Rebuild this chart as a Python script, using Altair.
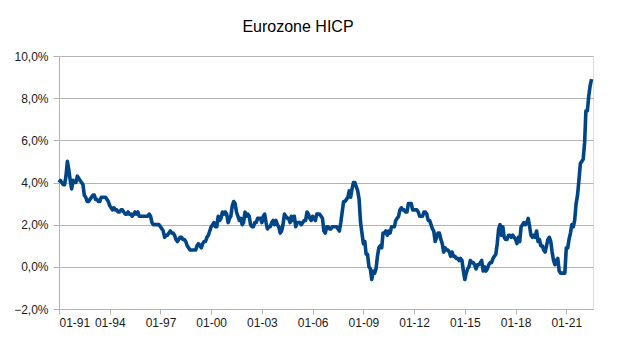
import altair as alt
import pandas as pd

start_year = 1991
y1991 = [4.0, 4.1, 4.0, 3.9, 3.9, 4.3, 5.0, 4.6, 4.1, 3.7, 4.1, 4.0]
y1992 = [4.0, 4.3, 4.2, 4.1, 4.0, 3.9, 3.4, 3.3, 3.1, 3.1, 3.2, 3.3]
y1993 = [3.4, 3.4, 3.2, 3.2, 3.1, 3.1, 3.3, 3.3, 3.3, 3.3, 3.2, 3.1]
y1994 = [2.9, 2.8, 2.7, 2.8, 2.7, 2.7, 2.6, 2.6, 2.7, 2.7, 2.6, 2.5]
y1995 = [2.5, 2.6, 2.5, 2.5, 2.4, 2.5, 2.6, 2.5, 2.6, 2.4, 2.4, 2.4]
y1996 = [2.4, 2.4, 2.4, 2.4, 2.5, 2.4, 2.1, 2.0, 2.0, 2.0, 2.0, 2.0]
y1997 = [1.9, 1.8, 1.7, 1.4, 1.5, 1.5, 1.6, 1.7, 1.6, 1.6, 1.5, 1.3]
y1998 = [1.2, 1.3, 1.4, 1.4, 1.3, 1.3, 1.2, 1.0, 0.9, 0.8, 0.8, 0.8]
y1999 = [0.8, 0.8, 1.0, 1.1, 1.0, 0.9, 1.1, 1.2, 1.2, 1.4, 1.5, 1.7]
y2000 = [1.9, 2.0, 2.1, 1.9, 1.9, 2.4, 2.2, 2.3, 2.6, 2.5, 2.6, 2.5]
y2001 = [2.1, 2.3, 2.4, 2.9, 3.1, 3.0, 2.6, 2.4, 2.2, 2.3, 2.0, 2.1]
y2002 = [2.6, 2.4, 2.5, 2.4, 2.0, 1.9, 1.9, 2.1, 2.1, 2.3, 2.3, 2.3]
y2003 = [2.1, 2.4, 2.5, 2.1, 1.8, 1.9, 1.9, 2.1, 2.2, 2.0, 2.2, 2.0]
y2004 = [1.9, 1.6, 1.7, 2.0, 2.5, 2.4, 2.3, 2.3, 2.1, 2.4, 2.2, 2.4]
y2005 = [1.9, 2.1, 2.1, 2.1, 2.0, 2.1, 2.2, 2.2, 2.6, 2.5, 2.3, 2.2]
y2006 = [2.4, 2.3, 2.2, 2.5, 2.5, 2.5, 2.4, 2.3, 1.7, 1.6, 1.9, 1.9]
y2007 = [1.8, 1.8, 1.9, 1.9, 1.9, 1.9, 1.8, 1.7, 2.1, 2.6, 3.1, 3.1]
y2008 = [3.2, 3.3, 3.6, 3.3, 3.7, 4.0, 4.0, 3.8, 3.6, 3.2, 2.1, 1.6]
y2009 = [1.1, 1.2, 0.6, 0.6, 0.0, -0.1, -0.6, -0.2, -0.3, -0.1, 0.5, 0.9]
y2010 = [1.0, 0.9, 1.6, 1.6, 1.7, 1.5, 1.7, 1.6, 1.9, 1.9, 1.9, 2.2]
y2011 = [2.3, 2.4, 2.7, 2.8, 2.7, 2.7, 2.6, 2.6, 3.0, 3.0, 3.0, 2.7]
y2012 = [2.7, 2.7, 2.7, 2.6, 2.4, 2.4, 2.4, 2.6, 2.6, 2.5, 2.2, 2.2]
y2013 = [2.0, 1.8, 1.7, 1.2, 1.4, 1.6, 1.6, 1.3, 1.1, 0.7, 0.9, 0.8]
y2014 = [0.8, 0.7, 0.5, 0.7, 0.5, 0.5, 0.4, 0.4, 0.3, 0.4, 0.3, -0.2]
y2015 = [-0.6, -0.3, -0.1, 0.0, 0.3, 0.2, 0.2, 0.1, -0.1, 0.1, 0.1, 0.2]
y2016 = [0.3, -0.2, 0.0, -0.2, -0.1, 0.1, 0.2, 0.2, 0.4, 0.5, 0.6, 1.1]
y2017 = [1.8, 2.0, 1.5, 1.9, 1.4, 1.3, 1.3, 1.5, 1.5, 1.4, 1.5, 1.4]
y2018 = [1.3, 1.1, 1.4, 1.2, 1.9, 2.0, 2.1, 2.0, 2.1, 2.3, 1.9, 1.5]
y2019 = [1.4, 1.5, 1.4, 1.7, 1.2, 1.3, 1.0, 1.0, 0.8, 0.7, 1.0, 1.3]
y2020 = [1.4, 1.2, 0.7, 0.3, 0.1, 0.3, 0.4, -0.2, -0.3, -0.3, -0.3, -0.3]
y2021 = [0.9, 0.9, 1.3, 1.6, 2.0, 1.9, 2.2, 3.0, 3.4, 4.1, 4.9, 5.0]
y2022 = [5.1, 5.9, 7.4, 7.4, 8.1, 8.6, 8.9]

years = [y1991, y1992, y1993, y1994, y1995, y1996, y1997, y1998, y1999, y2000,
         y2001, y2002, y2003, y2004, y2005, y2006, y2007, y2008, y2009, y2010,
         y2011, y2012, y2013, y2014, y2015, y2016, y2017, y2018, y2019, y2020,
         y2021, y2022]

rows = []
for i, vals in enumerate(years):
    yr = start_year + i
    for m, v in enumerate(vals):
        rows.append({"date": f"{yr}-{m + 1:02d}-01", "hicp": v})
df = pd.DataFrame(rows)

tick_years = list(range(1991, 2022, 3))
y_ticks = [-2, 0, 2, 4, 6, 8, 10]

grey = "#b3b3b3"

chart = alt.Chart(df).mark_line(color="#004586", strokeWidth=3.6, strokeJoin="round").encode(
    x=alt.X(
        "date:T",
        scale=alt.Scale(
            type="utc",
            domain=[alt.DateTime(year=1991, month=1, date=1, utc=True),
                    alt.DateTime(year=2022, month=8, date=1, utc=True)],
        ),
        axis=alt.Axis(
            values=[alt.DateTime(year=y, month=1, date=1, utc=True) for y in tick_years],
            format="%m-%y",
            title=None,
            grid=False,
            domainColor=grey,
            tickColor=grey,
            tickSize=5,
            labelPadding=3,
            labelFont="Liberation Sans",
            labelFontSize=12,
            labelColor="#1a1a1a",
        ),
    ),
    y=alt.Y(
        "hicp:Q",
        scale=alt.Scale(domain=[-2, 10], nice=False, zero=False),
        axis=alt.Axis(
            values=y_ticks,
            labelExpr="replace(format(datum.value / 100, '.1%'), '.', ',')",
            title=None,
            grid=True,
            gridColor=grey,
            domainColor=grey,
            tickColor=grey,
            tickSize=6,
            labelPadding=5,
            labelFont="Liberation Sans",
            labelFontSize=12,
            labelColor="#1a1a1a",
        ),
    ),
).properties(
    width=534,
    height=253,
    title=alt.TitleParams(
        "Eurozone HICP",
        font="Liberation Sans",
        fontSize=16,
        fontWeight="normal",
        color="#000000",
        anchor="middle",
        dx=-28,
        offset=15,
    ),
    autosize=alt.AutoSizeParams(type="none"),
    padding={"left": 59, "top": 56, "right": 30, "bottom": 44},
).configure_view(stroke=grey, strokeWidth=1).configure(background="white")

chart.save("out.html", embed_options={"renderer": "svg", "actions": False})
